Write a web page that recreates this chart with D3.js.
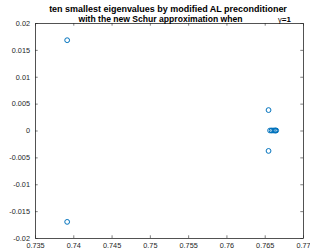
<!DOCTYPE html>
<html><head><meta charset="utf-8">
<script src="https://cdn.jsdelivr.net/npm/d3@7"></script>
<style>body{margin:0;background:#fff}svg{display:block}</style>
</head><body>
<svg id="c" width="310" height="250"></svg>
<script>
const xVals = [0.7392, 0.7392, 0.7655, 0.7655, 0.7657, 0.7659, 0.7661, 0.7663, 0.7664, 0.7665];
const yVals = [0.0168, -0.0170, 0.0038, -0.0038, 0, 0, 0, 0, 0, 0];
const xTicks = [0.735, 0.74, 0.745, 0.75, 0.755, 0.76, 0.765, 0.77];
const yTicks = [-0.02, -0.015, -0.01, -0.005, 0, 0.005, 0.01, 0.015, 0.02];
const titleLines = ["ten smallest eigenvalues by modified AL preconditioner", "with the new Schur approximation when"];

const L = 35, R = 303, T = 23, B = 238;
const svg = d3.select("#c");
const x = d3.scaleLinear().domain([0.735, 0.77]).range([L, R]);
const y = d3.scaleLinear().domain([-0.02, 0.02]).range([B, T]);
const font = "Liberation Sans, Arial, sans-serif";
const axisCol = "#262626";
const tl = 2.7;

function style(g){
  g.selectAll("path").attr("stroke", axisCol).attr("stroke-width", 0.8);
  g.selectAll("line").attr("stroke", axisCol).attr("stroke-width", 0.6);
  g.selectAll("text").attr("fill", axisCol).attr("font-family", font).attr("font-size", 7.3);
}
const gx = svg.append("g").attr("transform", `translate(0,${B})`)
  .call(d3.axisBottom(x).tickValues(xTicks).tickSizeInner(-tl).tickSizeOuter(0).tickPadding(5).tickFormat(d => String(+d.toFixed(3))));
style(gx);
const gxt = svg.append("g").attr("transform", `translate(0,${T})`)
  .call(d3.axisTop(x).tickValues(xTicks).tickSizeInner(-tl).tickSizeOuter(0).tickFormat(""));
style(gxt);
const gy = svg.append("g").attr("transform", `translate(${L},0)`)
  .call(d3.axisLeft(y).tickValues(yTicks).tickSizeInner(-tl).tickSizeOuter(0).tickPadding(5).tickFormat(d => String(+d.toFixed(3))));
style(gy);
const gyr = svg.append("g").attr("transform", `translate(${R},0)`)
  .call(d3.axisRight(y).tickValues(yTicks).tickSizeInner(-tl).tickSizeOuter(0).tickFormat(""));
style(gyr);

svg.append("g").selectAll("circle").data(xVals.map((v,i)=>[v,yVals[i]])).join("circle")
  .attr("cx", d => x(d[0])).attr("cy", d => y(d[1])).attr("r", 2.4)
  .attr("fill", "none").attr("stroke", "#0072BD").attr("stroke-width", 1);

function fitText(txt, cx, yb, width){
  const t = svg.append("text").attr("x", cx).attr("y", yb).attr("text-anchor", "middle")
    .attr("font-family", font).attr("font-size", 8).attr("font-weight", "bold").attr("fill", "#000")
    .text(txt);
  const w = t.node().getComputedTextLength();
  t.attr("font-size", 8 * width / w);
}
fitText(titleLines[0], 168, 11.5, 238);
fitText(titleLines[1], 160.5, 22, 164);
const g = svg.append("text").attr("x", 278).attr("y", 22)
  .attr("font-family", font).attr("font-size", 8).attr("fill", "#000");
g.append("tspan").attr("font-weight", "normal").attr("font-size", 7.5).text("γ");
g.append("tspan").attr("font-weight", "bold").text("=1");
</script>
</body></html>
